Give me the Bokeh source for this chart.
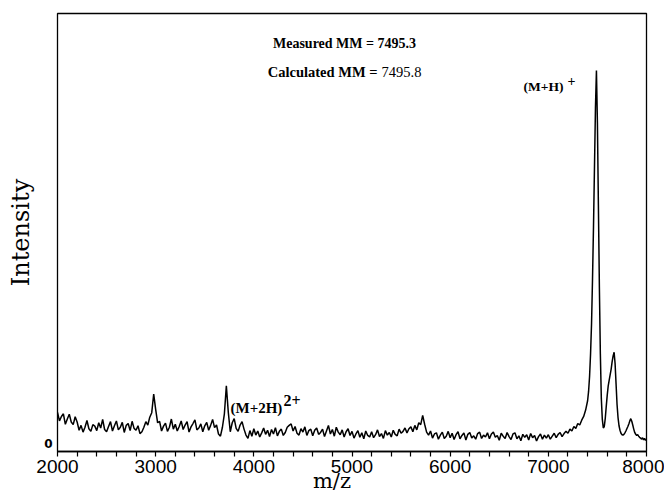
from bokeh.plotting import figure
from bokeh.models import FixedTicker, Label, Range1d, ColumnDataSource
from bokeh.embed import file_html
from bokeh.resources import INLINE

# ---- data (intensity in % of the (M+H)+ peak) ----
# baseline region: m/z 2000 .. 7380, sampled every 20
mz_base = list(range(2000, 7400, 20))
int_base = [
    8.4, 6.1, 7.3, 8.0, 5.2, 6.6, 7.9, 5.8, 5.1, 7.2,   # 2000
    5.8, 3.6, 4.9, 3.1, 4.4, 6.2, 4.0, 3.3, 5.1, 4.7,   # 2200
    3.5, 5.6, 4.2, 6.5, 3.8, 3.2, 4.6, 5.9, 3.4, 4.8,   # 2400
    6.1, 3.7, 4.4, 5.7, 3.0, 4.9, 5.4, 3.5, 6.0, 4.1,   # 2600
    3.6, 4.8, 2.7, 3.2, 4.4, 5.9, 5.0, 7.1, 8.3, 13.3,  # 2800
    9.2, 5.6, 6.0, 3.4, 4.7, 5.5, 3.3, 4.4, 6.6, 3.9,   # 3000
    5.2, 3.4, 4.6, 6.1, 3.8, 5.0, 5.9, 3.1, 4.5, 5.4,   # 3200
    6.4, 3.7, 4.2, 5.3, 3.2, 4.8, 5.7, 3.6, 4.9, 6.5,   # 3400
    4.3, 5.0, 2.6, 2.0, 4.4, 8.0, 15.5, 8.4, 3.2, 5.6,  # 3600
    6.7, 4.1, 3.3, 5.0, 5.9, 3.9, 2.3, 1.4, 3.5, 2.0,   # 3800
    4.0, 2.3, 3.4, 1.8, 2.9, 4.2, 2.5, 3.6, 1.9, 3.8,   # 4000
    2.6, 4.3, 2.1, 3.3, 3.9, 2.2, 3.0, 4.4, 4.9, 5.3,   # 4200
    3.4, 4.6, 2.8, 2.3, 4.0, 3.1, 4.5, 2.2, 3.5, 3.9,   # 4400
    2.1, 3.6, 4.2, 2.5, 3.0, 3.9, 1.9, 3.4, 4.9, 2.6,   # 4600
    3.8, 2.0, 4.4, 3.1, 2.4, 3.7, 1.8, 3.2, 4.0, 2.2,   # 4800
    3.3, 1.5, 2.6, 3.5, 1.7, 2.9, 1.3, 3.4, 2.2, 1.8,   # 5000
    3.2, 1.6, 2.4, 3.7, 1.9, 2.7, 1.4, 3.5, 2.3, 3.0,   # 5200
    1.8, 3.6, 2.5, 2.1, 3.9, 2.8, 3.3, 4.2, 2.9, 4.0,   # 5400
    4.5, 3.2, 4.9, 3.7, 5.6, 5.1, 7.6, 5.2, 3.1, 2.3,   # 5600
    3.4, 1.5, 2.6, 2.9, 1.2, 2.3, 3.1, 1.4, 2.0, 3.3,   # 5800
    1.6, 2.8, 1.1, 2.4, 3.2, 1.3, 2.2, 2.9, 1.0, 2.5,   # 6000
    3.0, 1.5, 2.1, 1.2, 2.7, 3.1, 1.4, 2.3, 1.8, 2.9,   # 6200
    1.3, 2.6, 3.1, 1.7, 2.2, 0.9, 2.8, 2.0, 1.4, 3.0,   # 6400
    1.9, 1.1, 2.6, 2.9, 1.3, 2.1, 0.8, 2.5, 1.7, 2.4,   # 6600
    1.0, 2.7, 1.6, 2.2, 0.7, 1.9, 2.6, 1.2, 2.3, 1.5,   # 6800
    2.4, 1.2, 2.0, 2.8, 1.6, 2.5, 3.0, 1.9, 2.7, 3.3,   # 7000
    2.8, 3.9, 3.4, 4.6, 4.1, 5.4, 5.0, 6.3, 7.3, 9.0,   # 7200
]

# peak region: m/z 7400 .. 8000, sampled every 10
mz_peak = list(range(7400, 8001, 10))
int_peak = [
    11.5, 14, 18, 24, 32, 44, 58, 74, 90, 100,          # 7400
    86, 64, 42, 24, 12, 6.5, 4.2, 4.6, 6.8, 10,         # 7500
    13, 15.5, 17, 18.5, 20, 22, 23.5, 24.5, 21.5, 16,   # 7600
    10.5, 7, 4.8, 3.6, 2.8, 2.4, 2.3, 2.5, 2.9, 3.4,    # 7700
    4.0, 4.6, 5.3, 6.1, 6.7, 6.0, 5.0, 3.9, 3.0, 2.5,   # 7800
    2.2, 2.4, 2.0, 1.7, 1.5, 1.2, 1.6, 1.0, 1.4, 0.9,   # 7900
    1.2,                                                # 8000
]

x_major_ticks = [2000, 3000, 4000, 5000, 6000, 7000, 8000]
x_minor_ticks = [2200, 2400, 2600, 2800, 3200, 3400, 3600, 3800,
                 4200, 4400, 4600, 4800, 5200, 5400, 5600, 5800,
                 6200, 6400, 6600, 6800, 7200, 7400, 7600, 7800]
y_ticks = [0]

measured_text = "Measured MM = 7495.3"
calc_label = "Calculated MM ="
calc_value = "7495.8"
x_title = "m/z"
y_title = "Intensity"

mz = mz_base + mz_peak
intensity = int_base + int_peak
src = ColumnDataSource(dict(mz=mz, intensity=intensity))

p = figure(width=664, height=497,
           x_range=Range1d(2000, 8000), y_range=Range1d(-2.1, 115.3),
           output_backend="svg", toolbar_location=None,
           min_border_left=57, min_border_right=18,
           min_border_top=13, min_border_bottom=46)
p.grid.visible = False
p.background_fill_color = "white"
p.border_fill_color = "white"
p.outline_line_color = "black"
p.outline_line_width = 1.3
p.outline_line_alpha = 1.0

xa = p.xaxis[0]
xa.ticker = FixedTicker(ticks=x_major_ticks, minor_ticks=x_minor_ticks)
xa.axis_line_color = "black"
xa.axis_line_width = 1.3
xa.major_tick_in = 0
xa.major_tick_out = 5
xa.minor_tick_in = 0
xa.minor_tick_out = 5
xa.major_tick_line_color = "black"
xa.minor_tick_line_color = "black"
xa.major_tick_line_width = 1.2
xa.minor_tick_line_width = 1.2
xa.major_label_text_font = "Liberation Sans"
xa.major_label_text_font_size = "19px"
xa.major_label_text_color = "black"
xa.major_label_standoff = 3
# trailing no-break spaces shift the centred title left, as in the original
xa.axis_label = x_title + "\u00a0" * 6
xa.axis_label_text_font = "DejaVu Serif"
xa.axis_label_text_font_size = "21px"
xa.axis_label_text_font_style = "normal"
xa.axis_label_text_color = "black"
xa.axis_label_standoff = -7

ya = p.yaxis[0]
ya.ticker = FixedTicker(ticks=y_ticks)
ya.axis_line_color = None
ya.major_tick_in = 0
ya.major_tick_out = 0
ya.minor_tick_line_color = None
ya.major_label_text_font = "DejaVu Sans"
ya.major_label_text_font_style = "bold"
ya.major_label_text_font_size = "12px"
ya.major_label_text_color = "black"
ya.major_label_standoff = 5
ya.axis_label = y_title
ya.axis_label_text_font = "DejaVu Serif"
ya.axis_label_text_font_size = "24px"
ya.axis_label_text_font_style = "normal"
ya.axis_label_text_color = "black"
ya.axis_label_standoff = 6

p.line("mz", "intensity", source=src, line_color="black", line_width=1.5)

def add_label(text, x, y, size, style="bold", font="Liberation Serif", align="center"):
    p.add_layout(Label(x=x, y=y, x_units="screen", y_units="screen", text=text,
                       text_font=font, text_font_size=size, text_font_style=style,
                       text_color="black", text_align=align, text_baseline="middle"))

# page coords -> frame screen coords: x = px - 57, y = 451 - py
add_label(measured_text, 287, 408, "14px")
add_label(calc_label, 320, 380, "14.5px", align="right")
add_label(calc_value, 324, 380, "14.5px", style="normal", align="left")
add_label("(M+H)", 506, 365, "13.5px", align="right")
add_label("+", 510, 371, "14px", align="left")
add_label("(M+2H)", 173, 44, "15px", align="left")
add_label("2+", 226, 51, "16px", align="left")

open("out.html", "w").write(file_html(p, INLINE))
